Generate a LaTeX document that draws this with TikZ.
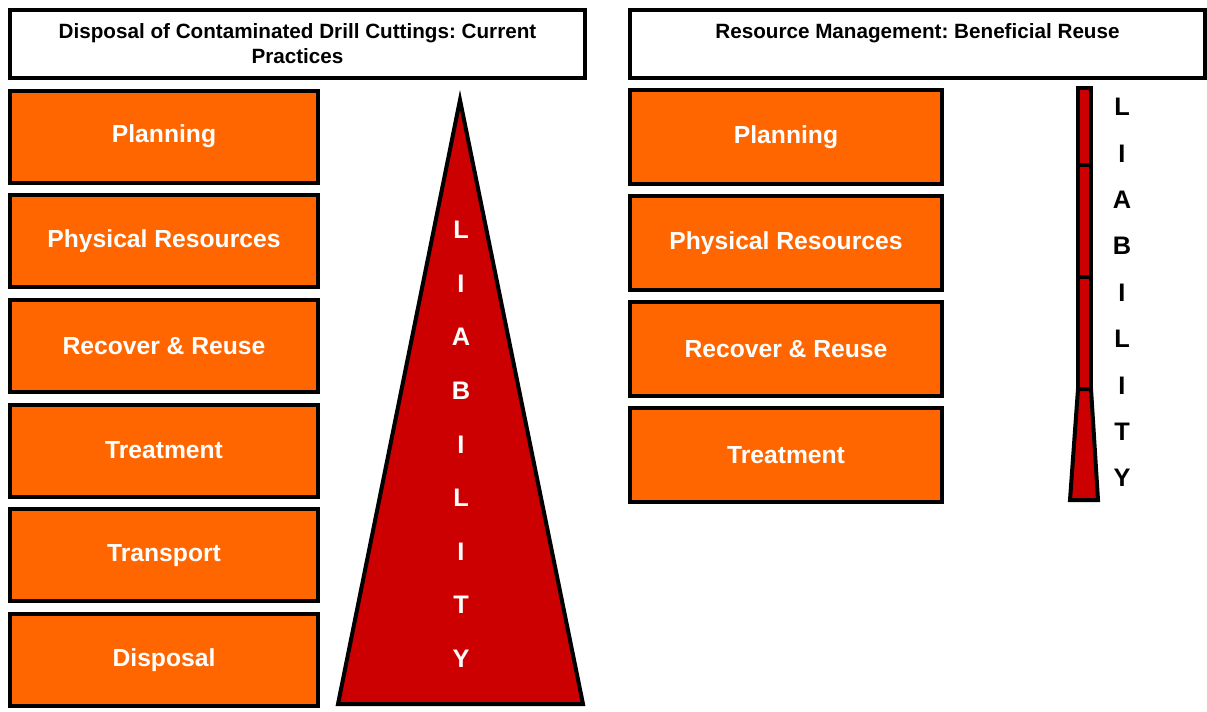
\documentclass[tikz,border=0pt]{standalone}
\usepackage{fontspec}
\setmainfont{Liberation Sans}
\usetikzlibrary{positioning}
\definecolor{boxorange}{HTML}{FF6600}
\definecolor{liabred}{HTML}{CC0000}
\frenchspacing

\tikzset{
  titlebox/.style={draw=black, line width=3pt, fill=white, align=center, inner sep=0pt,
    minimum width=431pt, minimum height=51pt, font=\bfseries\fontsize{15.5}{18.75}\selectfont},
  stage/.style={draw=black, line width=3pt, fill=boxorange, text=white, inner sep=0pt,
    font=\bfseries\fontsize{18.5}{22}\selectfont},
  lstage/.style={stage, minimum width=231pt, minimum height=69pt},
  rstage/.style={stage, minimum width=234pt, minimum height=70.5pt},
  liab/.style={line width=3pt, draw=black, fill=liabred},
  letter/.style={font=\bfseries\fontsize{19}{21}\selectfont, inner sep=0pt}
}

\begin{document}
\begin{tikzpicture}[x=0.75pt,y=-0.75pt]
\useasboundingbox (0,0) rectangle (1207,711);

% left side: current practices
\node[titlebox] (ltitle) at (297.5,44) {Disposal of Contaminated Drill Cuttings: Current\\Practices};
\node[lstage] (lplan) at (164,136.5) {Planning};
\node[lstage, below=6.5pt of lplan] (lphys) {Physical Resources};
\node[lstage, below=6.5pt of lphys] (lrec) {Recover \& Reuse};
\node[lstage, below=6.5pt of lrec] (ltreat) {Treatment};
\node[lstage, below=6.5pt of ltreat] (ltrans) {Transport};
\node[lstage, below=6.5pt of ltrans] (ldisp) {Disposal};

\draw[liab] (460,100) -- (583,704) -- (338,704) -- cycle;
\foreach \ch [count=\i] in {L,I,A,B,I,L,I,T,Y}
  \node[letter, text=white] (ll\i) at (461,{230+53.6*(\i-1)}) {\ch};

% right side: beneficial reuse
\node[titlebox] (rtitle) at (917.5,44) {Resource Management: Beneficial Reuse\\\mbox{}};
\node[rstage] (rplan) at (786,137) {Planning};
\node[rstage, below=6pt of rplan] (rphys) {Physical Resources};
\node[rstage, below=6pt of rphys] (rrec) {Recover \& Reuse};
\node[rstage, below=6pt of rrec] (rtreat) {Treatment};

\draw[liab] (1078,88) rectangle (1091,165);
\draw[liab] (1078,165) rectangle (1091,277);
\draw[liab] (1078,277) rectangle (1091,389);
\draw[liab] (1078,389) -- (1091,389) -- (1098,500) -- (1070,500) -- cycle;
\foreach \ch [count=\i] in {L,I,A,B,I,L,I,T,Y}
  \node[letter] (rl\i) at (1122,{107+46.4*(\i-1)}) {\ch};
\end{tikzpicture}
\end{document}
